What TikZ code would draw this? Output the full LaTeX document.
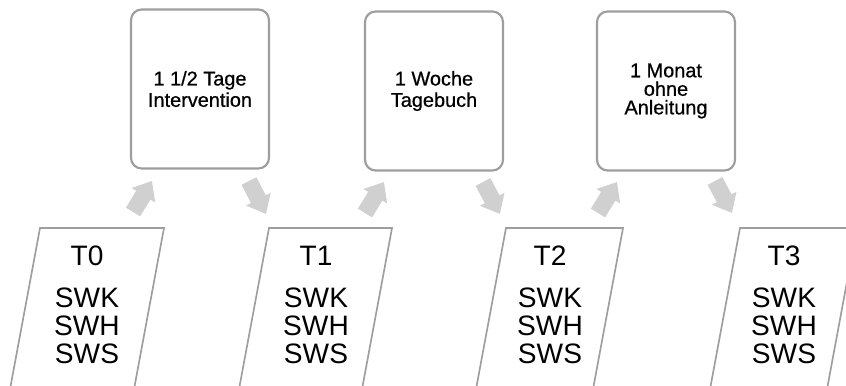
\documentclass[tikz,border=0pt]{standalone}
\usepackage{fontspec}
\setmainfont{Liberation Sans}
\newfontfamily\phasefont[FakeBold=0.7]{Liberation Sans}
\usetikzlibrary{arrows.meta}
\definecolor{lineG} {RGB}{158, 158, 158}
\definecolor{arrowG}{RGB}{208, 208, 208}

\begin{document}
\begin{tikzpicture}[x=0.03cm, y=-0.03cm,
    phase/.style={draw=lineG, line width=0.65mm, rounded corners=3.2mm,
      minimum width=4.14cm, minimum height=4.77cm, align=center, inner sep=0pt,
      font=\phasefont\fontsize{17}{18.2}\selectfont},
    probe/.style={draw=lineG, line width=0.5mm},
    probetext/.style={align=center, inner sep=0pt, font=\fontsize{24}{23.8}\selectfont},
    flow/.style={draw=arrowG, line width=0.5cm, -{Triangle[width=0.8cm, length=0.5cm]}}]
  \useasboundingbox (0,0) rectangle (846,385);

  % phases
  \node[phase] (interv) at (200, 89) {1 1/2 Tage\\Intervention};
  \node[phase] (diary)  at (434, 91) {1 Woche\\Tagebuch};
  \node[phase, font=\phasefont\fontsize{17}{15.8}\selectfont] (free) at (666, 91) {1 Monat\\ohne\\Anleitung};

  % measurement points
  \path[probe] (40,228)  -- (164,228) -- (132,400) -- (8,400)   -- cycle;
  \path[probe] (269,228) -- (392,228) -- (360,400) -- (237,400) -- cycle;
  \path[probe] (506,228) -- (623,228) -- (591,400) -- (474,400) -- cycle;
  \path[probe] (740,228) -- (857,228) -- (825,400) -- (708,400) -- cycle;

  \node[probetext] (t0) at (87, 305)  {T0\\[12pt]SWK\\SWH\\SWS};
  \node[probetext] (t1) at (316, 305) {T1\\[12pt]SWK\\SWH\\SWS};
  \node[probetext] (t2) at (550, 305) {T2\\[12pt]SWK\\SWH\\SWS};
  \node[probetext] (t3) at (784, 305) {T3\\[12pt]SWK\\SWH\\SWS};

  % arrows
  \coordinate (a1s) at (133,212); \coordinate (a1e) at (152,181);
  \coordinate (a2s) at (249,181); \coordinate (a2e) at (266,214);
  \coordinate (a3s) at (365,213); \coordinate (a3e) at (384,182);
  \coordinate (a4s) at (483,182); \coordinate (a4e) at (500,214);
  \coordinate (a5s) at (598,213); \coordinate (a5e) at (617,182);
  \coordinate (a6s) at (715,181); \coordinate (a6e) at (732,213);

  \draw[flow] (a1s) -- (a1e);
  \draw[flow] (a2s) -- (a2e);
  \draw[flow] (a3s) -- (a3e);
  \draw[flow] (a4s) -- (a4e);
  \draw[flow] (a5s) -- (a5e);
  \draw[flow] (a6s) -- (a6e);
\end{tikzpicture}
\end{document}
